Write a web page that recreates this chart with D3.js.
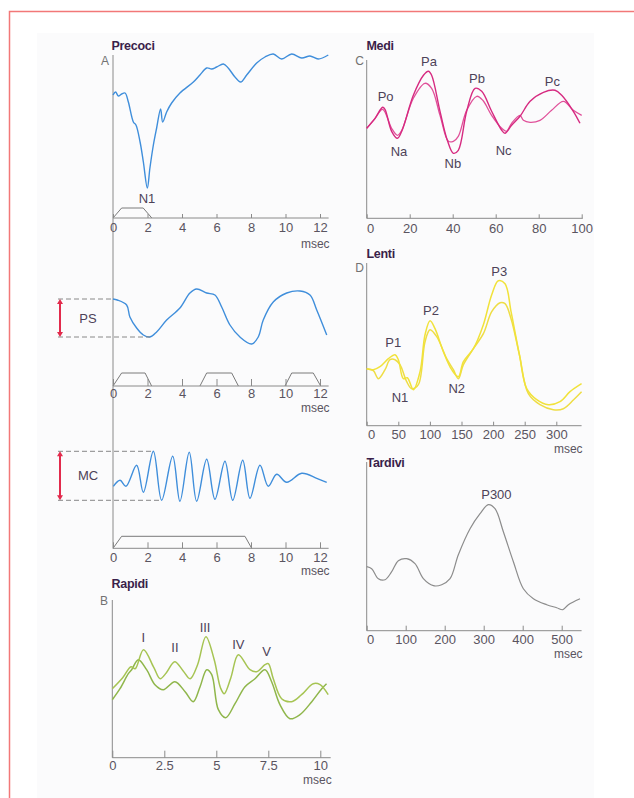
<!DOCTYPE html>
<html><head><meta charset="utf-8">
<script src="https://cdn.jsdelivr.net/npm/d3@7"></script>
<style>
html,body{margin:0;padding:0;background:#fff;}
svg{display:block;font-family:"Liberation Sans",Arial,sans-serif;}
</style></head><body>
<svg id="fig" width="634" height="798"></svg>
<script>
// ---- Evoked potential traces: [time, amplitude] ----
const precoci = [[0,123],[0.15,126],[0.31,122],[0.5,124],[0.7,125],[0.89,116],[1.18,96],[1.33,93],[1.57,76],[1.76,56],[1.99,30],[2.14,50],[2.34,73],[2.53,90],[2.76,109],[2.88,96],[3.11,106],[3.4,115],[3.88,125],[4.66,136],[5.04,143],[5.43,150],[5.72,149],[6.01,151],[6.4,154],[6.68,150],[7.07,141],[7.4,136],[7.75,143],[8.33,155],[8.81,161],[9.29,164],[9.78,159],[10.36,164],[10.94,160],[11.42,162],[11.9,159],[12.48,163]];
const psTrace = [[0,87],[0.25,86],[0.79,81],[0.98,69],[1.37,58],[1.76,51],[2.14,49],[2.53,54],[3.11,66],[3.88,78],[4.46,93],[4.85,97],[5.43,93],[5.91,91],[6.3,79],[6.78,61],[7.36,49],[8.04,42],[8.42,49],[8.71,66],[9.29,84],[10.07,93],[10.84,95],[11.42,91],[11.81,76],[12.39,51]];
const mcTrace = [[0.02,62],[0.41,68],[0.75,62],[1.37,83],[1.76,56],[2.34,97],[2.82,48],[3.46,92],[3.88,47],[4.42,96],[4.85,47],[5.43,89],[5.91,49],[6.49,87],[6.94,48],[7.52,88],[7.94,50],[8.52,83],[9.0,62],[9.49,74],[10.07,66],[10.94,75],[11.81,70],[12.39,66]];
const rapidiA = [[0,69],[0.5,80],[0.9,91],[1.1,89],[1.5,108],[2.0,90],[2.3,79],[2.6,85],[3.0,96],[3.4,87],[3.74,79],[4.1,93],[4.5,121],[4.9,98],[5.2,70],[5.38,64],[5.7,80],[6.06,103],[6.62,88],[6.94,86],[7.34,93],[7.5,94],[7.74,79],[8.14,59],[8.62,56],[9.1,63],[9.66,74],[9.99,73],[10.38,63]];
const rapidiB = [[0,58],[0.37,69],[0.77,84],[0.93,88],[1.25,98],[1.65,88],[2.05,73],[2.45,68],[3.01,76],[3.5,66],[3.89,56],[4.22,71],[4.54,88],[4.78,83],[5.1,48],[5.45,40],[5.9,54],[6.38,71],[6.86,79],[7.34,88],[7.66,76],[8.06,53],[8.54,39],[9.02,43],[9.59,56],[10.07,69],[10.3,74]];
const mediA = [[0,90],[3.9,100],[7.4,111],[8.5,109],[11.6,87],[14.3,80],[16.3,87],[21.7,123],[26.4,143],[28.7,147],[30.2,143],[34.1,107],[37.5,78],[40.3,65],[42.6,68],[46.5,107],[50.4,130],[53.5,127],[58.1,107],[62.8,88],[64.3,85],[67.4,93],[71.3,102],[76,117],[82.2,126],[87.6,128],[90.7,123],[96.1,107],[99.2,95]];
const mediB = [[0,90],[3.9,100],[7.4,109],[11.6,90],[14.3,83],[16.3,88],[21.7,120],[27.1,135],[30.2,130],[34.1,103],[38,77],[40.3,77],[42.6,82],[46.5,108],[51.2,122],[54,118],[58.1,103],[62.8,90],[65,87],[67.4,95],[71.3,103],[72.9,98],[76,96],[80.6,98],[86,108],[91.5,117],[96.1,108],[100,103]];
const lentiA = [[0,57],[10.5,56],[21,59],[34.3,67],[44.8,71],[50.1,66],[58,47],[64.3,48],[73.8,36],[84.4,54],[92.3,91],[100.2,105],[108.1,97],[121.3,74],[134.5,56],[145,49],[153,64],[168.8,77],[184.6,101],[197.8,131],[208.3,145],[218.9,142],[228.4,114],[241.6,71],[253.2,37],[269,26],[287.4,21],[305.9,24],[321.7,34],[340,42]];
const lentiB = [[0,57],[10.5,55],[18.5,47],[29,56],[36.9,66],[44.8,66],[52.7,61],[63.3,44],[71.2,37],[81.7,41],[92.3,84],[100.2,96],[110.8,89],[126.6,67],[137.1,56],[145,47],[153,61],[168.8,77],[184.6,92],[197.8,114],[211.1,123],[218.9,122],[228.4,107],[241.6,71],[255.8,32],[274.2,21],[295.3,16],[311.1,17],[327.4,26],[340,34]];
const tardivi = [[0,64],[12.8,62],[29.9,52],[47,51],[64.1,59],[81.2,70],[102.6,72],[123.9,67],[145.3,52],[171,45],[192.3,46],[213.7,52],[235,76],[265,102],[290.6,117],[311.9,126],[329,122],[350.4,99],[376.1,69],[401.7,42],[427.4,32],[461.5,26],[487.2,23],[503,21],[517.1,26],[547,32]];

// ---- Stimulus pulses: [onset, plateau start, plateau end, offset] ----
const precociPulse = [[0,0.5,1.75,2.25]];
const psPulses = [[0,0.5,1.86,2.24],[5.04,5.43,6.88,7.27],[9.97,10.36,11.61,12.04]];
const mcPulse = [[0,0.5,7.65,8.04]];

// ---- Tick values ----
const msTicks = [0,2,4,6,8,10,12];
const rapidiTicks = [0,2.5,5,7.5,10];
const mediTicks = [0,20,40,60,80,100];
const lentiTicks = [0,50,100,150,200,250,300];
const tardiviTicks = [0,100,200,300,400,500];

// ---- Component labels: [text, time, amplitude] ----
const precociLabels = [["N1",1.97,20]];
const rapidiLabels = [["I",1.49,120],["II",3.01,110],["III",4.46,130],["IV",6.06,113],["V",7.42,106]];
const mediLabels = [["Po",8.8,122],["Na",15,67],["Pa",29,157],["Nb",40.1,55],["Pb",51.3,140],["Nc",63.7,68],["Pc",86.4,137]];
const lentiLabels = [["P1",42,83],["N1",52.7,28],["P2",101.7,115],["N2",142.4,37],["P3",209.8,154]];
const tardiviLabels = [["P300",332.6,136]];

const AXIS = "#8a8a8a", TEXT = "#5a5460", TITLE = "#3a1f4a", LABEL = "#4d4258";
const FONT = "'Liberation Sans', Arial, sans-serif";
const svg = d3.select("#fig");

// page frame
svg.append("rect").attr("x",37).attr("y",33).attr("width",557).attr("height",765).attr("fill","#fbfbfc");
svg.append("path").attr("d","M9.5,798V11.5H634").attr("fill","none").attr("stroke","#f27878").attr("stroke-width",1.5);

// ---- scales ----
const xLeft = d3.scaleLinear().domain([0,12]).range([113,320]);
const xRapidi = d3.scaleLinear().domain([0,10]).range([112.3,320.3]);
const xMedi = d3.scaleLinear().domain([0,100]).range([366.7,581.7]);
const xLenti = d3.scaleLinear().domain([0,300]).range([366.7,556.3]);
const xTardivi = d3.scaleLinear().domain([0,500]).range([366.7,561.7]);

const yPrecoci = d3.scaleLinear().domain([0,163]).range([218,55]);
const yPS = d3.scaleLinear().domain([0,100]).range([386,286]);
const yMC = d3.scaleLinear().domain([0,100]).range([548.3,448.3]);
const yRapidi = d3.scaleLinear().domain([0,150]).range([757.7,607.7]);
const yMedi = d3.scaleLinear().domain([0,150]).range([218.3,68.3]);
const yLenti = d3.scaleLinear().domain([0,160]).range([425.7,265.7]);
const yTardivi = d3.scaleLinear().domain([0,160]).range([630.7,470.7]);

function drawAxis(x, y, ticks, o) {
  const g = svg.append("g").attr("transform", `translate(0,${y(0)})`);
  g.call(d3.axisBottom(x).tickValues(ticks).tickSizeInner(-o.tick).tickSizeOuter(0)
          .tickPadding(o.pad).tickFormat(d3.format("")));
  g.attr("font-family", FONT).attr("font-size", 13);
  g.select(".domain").remove();
  g.append("line").attr("x1", x(0)).attr("x2", x(o.end)).attr("stroke", AXIS).attr("stroke-width", 1);
  g.selectAll(".tick line").attr("stroke", AXIS);
  g.selectAll(".tick text").attr("fill", TEXT);
  if (o.zeroShift) g.selectAll(".tick text").filter(d => d === 0).attr("dx", o.zeroShift);
  if (o.unit) g.append("text").attr("x", x(o.end) + 1).attr("y", o.unit)
      .attr("text-anchor","end").attr("font-size", 12).attr("fill", TEXT).text("msec");
}

function vAxis(x, y1, y2) {
  svg.append("line").attr("x1",x).attr("x2",x).attr("y1",y1).attr("y2",y2)
     .attr("stroke",AXIS).attr("stroke-width",1);
}

function trace(x, y, data, color, w) {
  const line = d3.line().x(d => x(d[0])).y(d => y(d[1])).curve(d3.curveCatmullRom.alpha(0.5));
  svg.append("path").datum(data).attr("d", line).attr("fill","none")
     .attr("stroke", color).attr("stroke-width", w || 1.4).attr("stroke-linejoin","round");
}

function pulses(x, y, list, level) {
  list.forEach(p => {
    const pts = [[p[0],0],[p[1],level],[p[2],level],[p[3],0]];
    svg.append("path").attr("d", d3.line().x(d => x(d[0])).y(d => y(d[1]))(pts))
       .attr("fill","none").attr("stroke","#7a7a7a").attr("stroke-width",1);
  });
}

function labels(x, y, list, size) {
  list.forEach(l => {
    svg.append("text").attr("x", x(l[1])).attr("y", y(l[2])).attr("text-anchor","middle")
       .attr("dominant-baseline","central").attr("fill", LABEL).attr("font-size", size || 13).text(l[0]);
  });
}

function title(x, yPos, txt) {
  svg.append("text").attr("x", x).attr("y", yPos).attr("fill", TITLE).attr("font-weight","bold")
     .attr("font-size", 12.5).attr("letter-spacing", -0.3).text(txt);
}
function letter(x, yPos, txt) {
  svg.append("text").attr("x", x).attr("y", yPos).attr("text-anchor","end").attr("fill","#727272")
     .attr("font-size", 12).text(txt);
}

// lowest point of a trace within a time window
function lowest(data, t0, t1) {
  return data.filter(d => d[0] >= t0 && d[0] <= t1).reduce((a, b) => b[1] < a[1] ? b : a);
}

// red double arrow with dashed guide lines measuring a trace's swing
function bracket(x, y, top, bottom, name) {
  const xl = x(0) - 55;
  svg.append("line").attr("x1", xl).attr("x2", x(top[0])).attr("y1", y(top[1])).attr("y2", y(top[1]))
     .attr("stroke","#888").attr("stroke-dasharray","5,3").attr("stroke-width",1);
  svg.append("line").attr("x1", xl).attr("x2", x(bottom[0])).attr("y1", y(bottom[1])).attr("y2", y(bottom[1]))
     .attr("stroke","#888").attr("stroke-dasharray","5,3").attr("stroke-width",1);
  const ax = xl + 2, y1 = y(top[1]), y2 = y(bottom[1]);
  svg.append("line").attr("x1",ax).attr("x2",ax).attr("y1",y1+3).attr("y2",y2-3)
     .attr("stroke","#e22a4c").attr("stroke-width",2);
  svg.append("path").attr("d",`M${ax-3},${y1+5}L${ax},${y1}L${ax+3},${y1+5}Z M${ax-3},${y2-5}L${ax},${y2}L${ax+3},${y2-5}Z`)
     .attr("fill","#e22a4c");
  svg.append("text").attr("x", x(0) - 25).attr("y", (y1 + y2) / 2).attr("text-anchor","middle")
     .attr("dominant-baseline","central").attr("fill", LABEL).attr("font-size", 13).text(name);
}

// ===== Left column =====
vAxis(113, 55, 548.3);
title(111.5, 50, "Precoci");
letter(109, 64.5, "A");
pulses(xLeft, yPrecoci, precociPulse, 10);
drawAxis(xLeft, yPrecoci, msTicks, {tick:4, pad:5, end:12.5, unit:29.5});
trace(xLeft, yPrecoci, precoci, "#3f8edb", 1.4);
labels(xLeft, yPrecoci, precociLabels);

pulses(xLeft, yPS, psPulses, 13);
drawAxis(xLeft, yPS, msTicks, {tick:7, pad:2.5, end:12.5, unit:25.5});
trace(xLeft, yPS, psTrace, "#3f8edb", 1.4);
bracket(xLeft, yPS, psTrace[0], lowest(psTrace, 0, 3), "PS");

pulses(xLeft, yMC, mcPulse, 12);
drawAxis(xLeft, yMC, msTicks, {tick:6, pad:4, end:12.5, unit:27});
trace(xLeft, yMC, mcTrace, "#3f8edb", 1.4);
{
  const mx = mcTrace.reduce((a,b) => b[1] > a[1] ? b : a);
  bracket(xLeft, yMC, mx, lowest(mcTrace, mx[0], mx[0] + 1), "MC");
}

vAxis(112.3, 600, 757.7);
title(111.5, 587.5, "Rapidi");
letter(108, 604.5, "B");
drawAxis(xRapidi, yRapidi, rapidiTicks, {tick:7, pad:3.5, end:10.5, unit:26.5});
trace(xRapidi, yRapidi, rapidiB, "#8fb64b", 1.5);
trace(xRapidi, yRapidi, rapidiA, "#a6c453", 1.5);
labels(xRapidi, yRapidi, rapidiLabels);

// ===== Right column =====
vAxis(366.7, 60, 218.3);
title(366.5, 50, "Medi");
letter(364, 65, "C");
drawAxis(xMedi, yMedi, mediTicks, {tick:4, pad:5, end:100.5, zeroShift:3.5});
trace(xMedi, yMedi, mediB, "#e0519a", 1.3);
trace(xMedi, yMedi, mediA, "#d62a80", 1.4);
labels(xMedi, yMedi, mediLabels);

vAxis(366.7, 263, 425.7);
title(366.5, 258.3, "Lenti");
letter(364, 272, "D");
drawAxis(xLenti, yLenti, lentiTicks, {tick:4, pad:4.3, end:340, zeroShift:4.5, unit:27});
trace(xLenti, yLenti, lentiB, "#eedd45", 1.5);
trace(xLenti, yLenti, lentiA, "#f1e23a", 1.5);
labels(xLenti, yLenti, lentiLabels);

vAxis(366.7, 462, 630.7);
title(366.5, 466.5, "Tardivi");
drawAxis(xTardivi, yTardivi, tardiviTicks, {tick:5, pad:4.3, end:551, zeroShift:3.5, unit:27.5});
trace(xTardivi, yTardivi, tardivi, "#8c8c8c", 1.2);
labels(xTardivi, yTardivi, tardiviLabels);
</script></body></html>
